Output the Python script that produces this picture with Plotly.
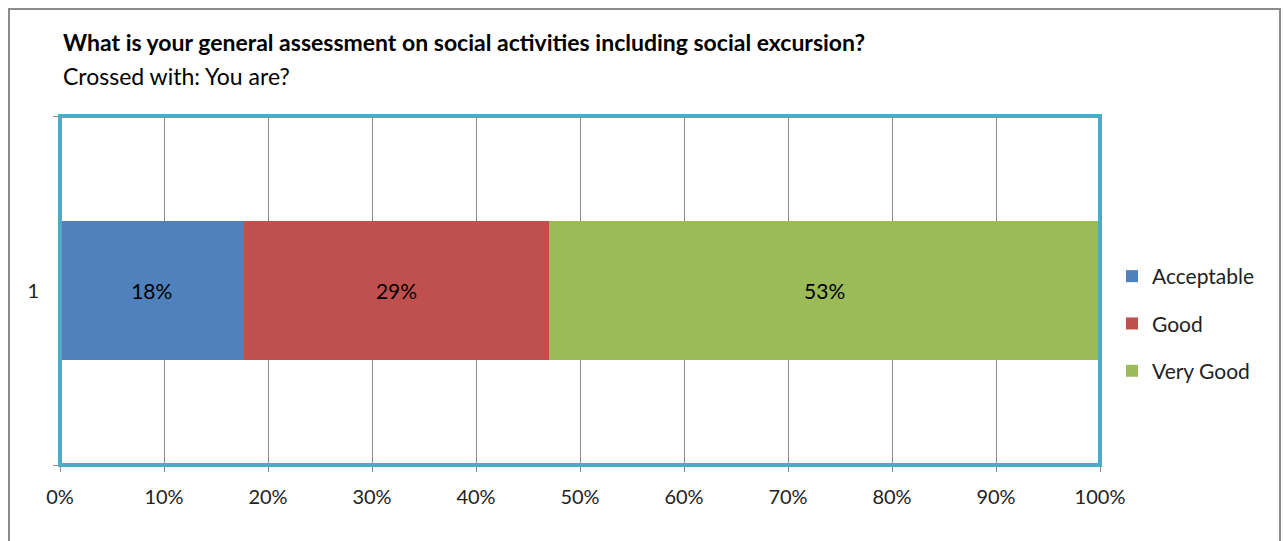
import plotly.graph_objects as go

categories = ["1"]
series_names = ["Acceptable", "Good", "Very Good"]
series_values = [[3 / 17], [5 / 17], [9 / 17]]
series_colors = ["#4F81BD", "#C0504D", "#9BBB59"]
x_tick_vals = [i / 10 for i in range(11)]
x_tick_text = [f"{i * 10}%" for i in range(11)]

title_text = "What is your general assessment on social activities including social excursion?"
subtitle_text = "Crossed with: You are?"

FONT = "Lato, 'Open Sans', sans-serif"

fig = go.Figure()
for i, (name, vals, col) in enumerate(zip(series_names, series_values, series_colors)):
    fig.add_trace(go.Bar(
        y=[0], x=vals, name=name, orientation="h",
        marker=dict(color=col, line=dict(width=0)),
        text=vals, texttemplate="%{x:.0%}", textposition="inside",
        insidetextanchor="middle", textfont=dict(color="black", size=21, family=FONT),
        legendgroup=name, width=0.4,
    ))

L, R, T, B = 60, 184, 116, 76
W, H = 1284, 541
pw, ph = W - L - R, H - T - B

def px_x(x):
    return (x - L) / pw

def px_y(y):
    return (H - B - y) / ph

fig.update_layout(
    width=W, height=H, barmode="stack", bargap=0.6,
    margin=dict(l=L, r=R, t=T, b=B, autoexpand=False),
    paper_bgcolor="white", plot_bgcolor="white",
    font=dict(family=FONT, size=20, color="#222222"),
    showlegend=True,
    legend=dict(x=px_x(1112), y=px_y(256), xanchor="left", yanchor="top",
                font=dict(size=21, family=FONT, color="#222222"),
                tracegroupgap=17, itemwidth=30, traceorder="grouped",
                bgcolor="rgba(0,0,0,0)"),
    xaxis=dict(range=[0, 1], tickvals=x_tick_vals, ticktext=x_tick_text,
               showgrid=True, gridcolor="#8C8C8C", gridwidth=1,
               ticks="outside", ticklen=6, tickcolor="#8C8C8C",
               ticklabelstandoff=8,
               zeroline=False, showline=False, fixedrange=True,
               tickfont=dict(size=20, color="#222222")),
    yaxis=dict(range=[-0.5, 0.5], tickvals=[0], ticktext=categories,
               showgrid=False, zeroline=False, showline=False, ticks="",
               ticklabelstandoff=20, fixedrange=True,
               tickfont=dict(size=20, color="#222222"),
               minor=dict(tickvals=[-0.5, 0.5], ticks="outside", ticklen=6,
                          tickcolor="#8C8C8C", showgrid=False)),
    shapes=[
        dict(type="rect", xref="paper", yref="paper", x0=0, x1=1, y0=0, y1=1,
             line=dict(color="#4BACC6", width=4), layer="above"),
        dict(type="rect", xref="paper", yref="paper",
             x0=px_x(9), x1=px_x(1280), y0=px_y(560), y1=px_y(9),
             line=dict(color="#8C8C8C", width=2), layer="below"),
    ],
    annotations=[
        dict(text=f"<b>{title_text}</b>", xref="paper", yref="paper",
             x=px_x(61), y=px_y(42), xanchor="left", yanchor="middle",
             showarrow=False, font=dict(size=23, color="black", family=FONT)),
        dict(text=subtitle_text, xref="paper", yref="paper",
             x=px_x(61), y=px_y(76), xanchor="left", yanchor="middle",
             showarrow=False, font=dict(size=23, color="black", family=FONT)),
    ],
)

fig.write_html("out.html", config={"displayModeBar": False},
               post_script="document.body.style.margin='0';document.body.style.padding='0';")
